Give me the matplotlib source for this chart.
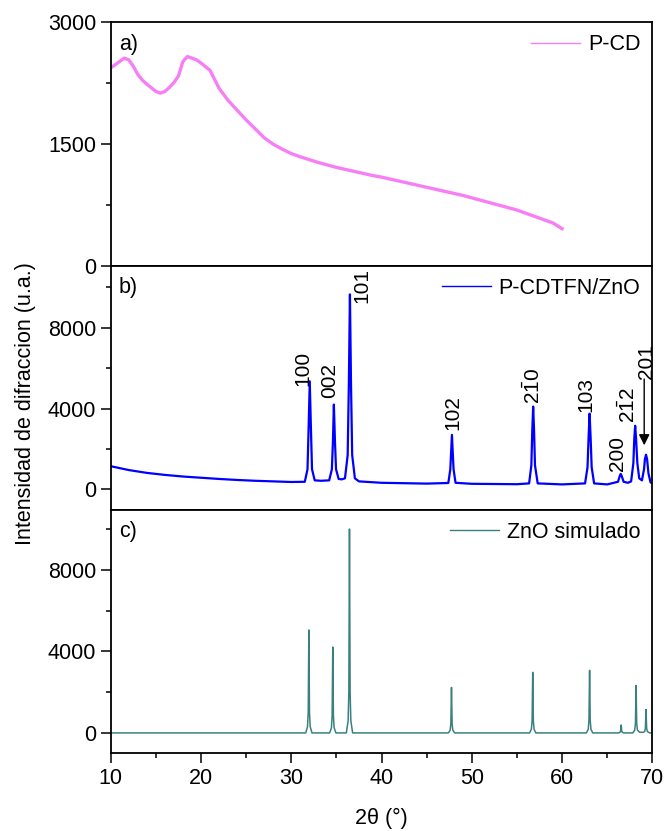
import matplotlib
matplotlib.use("Agg")
import matplotlib.pyplot as plt
from matplotlib.ticker import MultipleLocator

plt.rcParams['font.family'] = 'Liberation Sans'
plt.rcParams['mathtext.fontset'] = 'custom'
plt.rcParams['mathtext.rm'] = 'Liberation Sans'
plt.rcParams['mathtext.it'] = 'Liberation Sans'

FS = 15.5

# a) P-CD
pcd_2theta = [10.0, 10.5, 11.0, 11.5, 12.0, 12.5, 13.0, 13.5, 14.0, 14.5, 15.0,
              15.5, 16.0, 16.5, 17.0, 17.5, 18.0, 18.5, 19.0, 19.5, 20.0, 21.0,
              22.0, 23.0, 24.0, 25.0, 26.0, 27.0, 28.0, 29.0, 30.0, 31.0, 32.0,
              33.0, 34.0, 35.0, 36.0, 37.0, 38.0, 39.0, 40.0, 41.0, 42.0, 43.0,
              44.0, 45.0, 46.0, 47.0, 48.0, 49.0, 50.0, 51.0, 52.0, 53.0, 54.0,
              55.0, 56.0, 57.0, 58.0, 59.0, 60.0]
pcd_int = [2440, 2480, 2520, 2560, 2540, 2460, 2360, 2290, 2240, 2195, 2150,
           2130, 2150, 2200, 2260, 2340, 2520, 2580, 2560, 2540, 2500, 2410,
           2190, 2040, 1920, 1800, 1690, 1580, 1500, 1440, 1385, 1345, 1310,
           1275, 1245, 1215, 1190, 1165, 1140, 1115, 1095, 1070, 1045, 1020,
           995, 970, 945, 920, 895, 870, 840, 810, 780, 750, 720,
           690, 650, 610, 570, 530, 460]

# b) P-CDTFN/ZnO
tfn_2theta = [10.0, 12.0, 14.0, 16.0, 18.0, 20.0, 22.0, 24.0, 26.0, 28.0, 30.0,
              31.5, 31.8, 31.92, 32.05, 32.18, 32.3, 32.6, 33.3,
              34.2, 34.5, 34.62, 34.72, 34.84, 34.96, 35.25, 35.6,
              35.95, 36.25, 36.38, 36.5, 36.62, 36.75, 37.05, 37.5, 40.0, 45.0,
              47.4, 47.62, 47.8, 47.98, 48.2, 50.0, 55.0,
              56.35, 56.6, 56.7, 56.8, 56.9, 57.0, 57.3, 60.0,
              62.55, 62.82, 62.94, 63.05, 63.16, 63.28, 63.55, 65.0,
              66.2, 66.38, 66.5, 66.62, 66.82, 67.3,
              67.65, 67.9, 68.0, 68.1, 68.2, 68.34, 68.55,
              68.85, 69.08, 69.18, 69.3, 69.42, 69.57, 69.8, 70.0]
tfn_int = [1150, 960, 820, 720, 640, 580, 520, 470, 430, 400, 370,
           380, 1000, 3000, 5350, 3000, 1000, 450, 430,
           450, 1000, 2400, 4200, 2400, 1000, 520, 500,
           550, 1700, 5200, 9650, 5200, 1700, 550, 400, 330, 290,
           320, 1000, 2700, 1000, 330, 280, 260,
           300, 1200, 2900, 4100, 2900, 1200, 300, 250,
           300, 1100, 2600, 3750, 2600, 1100, 300, 250,
           380, 650, 770, 650, 380, 330,
           400, 1300, 2500, 3150, 2500, 1300, 550,
           450, 1000, 1500, 1720, 1500, 800, 350, 300]

# c) ZnO simulado
sim_2theta = [10.0, 31.6, 31.8, 31.88, 31.95, 32.02, 32.1, 32.3,
              34.25, 34.45, 34.53, 34.6, 34.67, 34.75, 34.95,
              36.1, 36.3, 36.38, 36.45, 36.52, 36.6, 36.8,
              47.4, 47.6, 47.68, 47.75, 47.82, 47.9, 48.1,
              56.4, 56.6, 56.68, 56.75, 56.82, 56.9, 57.1,
              62.7, 62.9, 62.98, 63.05, 63.12, 63.2, 63.4,
              66.3, 66.45, 66.5, 66.55, 66.6, 66.65, 66.8,
              67.85, 68.05, 68.13, 68.2, 68.27, 68.35, 68.6,
              69.0, 69.15, 69.23, 69.3, 69.37, 69.45, 69.7, 70.0]
sim_int = [0, 0, 300, 1000, 5050, 1000, 300, 0,
           0, 250, 850, 4210, 850, 250, 0,
           0, 600, 2000, 10000, 2000, 600, 0,
           0, 130, 450, 2230, 450, 130, 0,
           0, 180, 600, 2970, 600, 180, 0,
           0, 180, 620, 3070, 620, 180, 0,
           0, 50, 120, 390, 120, 50, 0,
           0, 140, 470, 2330, 470, 140, 30,
           30, 70, 230, 1150, 230, 70, 0, 0]

# Miller indices for panel b: text, x, y of label bottom
hkl_text = ['100', '002', '101', '102', r'$\mathregular{2\bar{1}0}$', '103',
            '200', r'$\mathregular{2\bar{1}2}$', '201']
hkl_x = [31.3, 34.3, 37.8, 47.95, 56.8, 62.65, 66.1, 67.3, 69.4]
hkl_y = [5100, 4500, 9200, 2950, 4250, 3850, 900, 3300, 5450]


def style_axis(ax, ylim, major, minor):
    ax.set_xlim(10, 70)
    ax.set_ylim(*ylim)
    ax.yaxis.set_major_locator(MultipleLocator(major))
    ax.yaxis.set_minor_locator(MultipleLocator(minor))
    ax.xaxis.set_major_locator(MultipleLocator(10))
    ax.xaxis.set_minor_locator(MultipleLocator(5))
    ax.tick_params(which='both', direction='out', width=1.1, labelsize=FS,
                   top=False, right=False)
    ax.tick_params(which='major', length=7)
    ax.tick_params(which='minor', length=3.6)
    for sp in ax.spines.values():
        sp.set_linewidth(1.3)


def add_legend(ax):
    leg = ax.legend(loc='upper right', frameon=False, fontsize=FS,
                    handlelength=2.3, handletextpad=0.35,
                    borderaxespad=0.25, borderpad=0.3)
    for line in leg.get_lines():
        line.set_linewidth(1.0)


def main():
    fig = plt.figure(figsize=(6.67, 8.31), dpi=100)
    gs = fig.add_gridspec(3, 1, left=0.166, right=0.978, bottom=0.0935,
                          top=0.973, hspace=0)
    ax_a = fig.add_subplot(gs[0])
    ax_b = fig.add_subplot(gs[1], sharex=ax_a)
    ax_c = fig.add_subplot(gs[2], sharex=ax_a)

    ax_a.plot(pcd_2theta, pcd_int, color='#f77ff5', lw=2.4, label='P-CD')
    style_axis(ax_a, (0, 3000), 1500, 750)
    add_legend(ax_a)

    ax_b.plot(tfn_2theta, tfn_int, color='#0000ff', lw=1.6,
              label='P-CDTFN/ZnO')
    style_axis(ax_b, (-1000, 11050), 4000, 2000)
    add_legend(ax_b)
    for t, x, y in zip(hkl_text, hkl_x, hkl_y):
        ax_b.text(x, y, t, rotation=90, ha='center', va='bottom', fontsize=15)
    ax_b.annotate('', xy=(69.1, 2050), xytext=(69.1, 5600),
                  arrowprops=dict(arrowstyle='-|>', color='black', lw=1.0,
                                  mutation_scale=16))

    ax_c.plot(sim_2theta, sim_int, color='#3b8080', lw=1.1,
              label='ZnO simulado')
    style_axis(ax_c, (-1000, 10950), 4000, 2000)
    add_legend(ax_c)

    for ax in (ax_a, ax_b):
        ax.tick_params(axis='x', which='both', bottom=False, labelbottom=False)

    for ax, lab in zip((ax_a, ax_b, ax_c), ('a)', 'b)', 'c)')):
        ax.text(0.015, 0.91, lab, transform=ax.transAxes, fontsize=FS,
                ha='left', va='center')

    ax_c.set_xlabel('2\u03b8 (\u00b0)', fontsize=FS, labelpad=14)
    fig.text(0.0375, 0.514, 'Intensidad de difraccion (u.a.)', rotation=90,
             ha='center', va='center', fontsize=FS)

    fig.savefig('out.png', dpi=100)


if __name__ == '__main__':
    main()
